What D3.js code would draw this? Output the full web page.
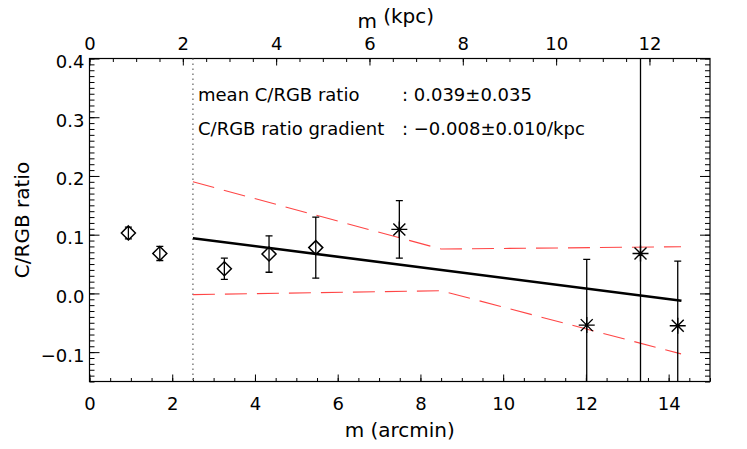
<!DOCTYPE html>
<html>
<head>
<meta charset="utf-8">
<script src="https://cdn.jsdelivr.net/npm/d3@7"></script>
<style>
  body { margin: 0; background: #fff; }
  text { font-family: "DejaVu Sans", sans-serif; fill: #000; }
</style>
</head>
<body>
<div id="plot"></div>
<script>
// inner points (diamonds)
var innerR = [0.94, 1.70, 3.26, 4.34, 5.47];
var innerVal = [0.103, 0.068, 0.042, 0.067, 0.078];
var innerErr = [0.010, 0.012, 0.018, 0.031, 0.052];

// outer points (asterisks)
var outerR = [7.49, 12.02, 13.32, 14.22];
var outerVal = [0.109, -0.054, 0.068, -0.055];
var outerErr = [0.049, 0.112, 0.60, 0.110];

// linear fit and its error envelope
var fitR = [2.5, 14.31];
var fitVal = [0.094, -0.0124];
var envR = [2.5, 8.5, 14.3];
var envUpper = [0.19, 0.0755, 0.0795];
var envLower = [-0.002, 0.0045, -0.103];

var innerLimit = 2.5;
var kpcPerArcmin = 0.8865;

var xTicks = [0, 2, 4, 6, 8, 10, 12, 14];
var kpcTicks = [0, 2, 4, 6, 8, 10, 12];
var yTicks = [-0.1, 0.0, 0.1, 0.2, 0.3, 0.4];

var textLines = [
  ["mean C/RGB ratio", ": 0.039\u00b10.035"],
  ["C/RGB ratio gradient", ": \u22120.008\u00b10.010/kpc"]
];

// set the dimensions and margins of the graph
var margin = {top: 58.5, right: 37, bottom: 67.5, left: 89.5},
    width = 747 - margin.left - margin.right,
    height = 449 - margin.top - margin.bottom;

var svg = d3.select("#plot")
  .append("svg")
    .attr("width", 747)
    .attr("height", 449)
  .append("g")
    .attr("transform", "translate(" + margin.left + "," + margin.top + ")");

var x = d3.scaleLinear().domain([0, 15]).range([0, width]);
var xk = d3.scaleLinear().domain([0, 15 * kpcPerArcmin]).range([0, width]);
var y = d3.scaleLinear().domain([-0.15, 0.4]).range([height, 0]);

svg.append("clipPath").attr("id", "clip")
  .append("rect").attr("width", width).attr("height", height);

function minorTicks(lo, hi, step) {
  var out = [];
  for (var i = 0; lo + i * step <= hi + 1e-9; i++) out.push(+(lo + i * step).toFixed(4));
  return out;
}

// bottom axis
svg.append("g")
  .attr("transform", "translate(0," + height + ")")
  .call(d3.axisBottom(x).tickValues(minorTicks(0, 15, 0.5)).tickSize(-3.5).tickFormat(""));
svg.append("g")
  .attr("transform", "translate(0," + height + ")")
  .call(d3.axisBottom(x).tickValues(xTicks).tickSize(-7).tickPadding(15.7).tickFormat(d3.format("d")));

// top axis (kpc)
svg.append("g")
  .call(d3.axisTop(xk).tickValues(minorTicks(0, 13.2, 0.5)).tickSize(-3.5).tickFormat(""));
svg.append("g")
  .call(d3.axisTop(xk).tickValues(kpcTicks).tickSize(-7).tickPadding(8.5).tickFormat(d3.format("d")));

// left axis
svg.append("g")
  .call(d3.axisLeft(y).tickValues(minorTicks(-0.15, 0.4, 0.01)).tickSize(-5).tickFormat(""));
var yAx = svg.append("g")
  .call(d3.axisLeft(y).tickValues(yTicks).tickSize(-10).tickPadding(5).tickFormat(d3.format(".1f")));
yAx.selectAll("text").attr("dy", "0.5em");

// right axis
svg.append("g")
  .attr("transform", "translate(" + width + ",0)")
  .call(d3.axisRight(y).tickValues(minorTicks(-0.15, 0.4, 0.01)).tickSize(-5).tickFormat(""));
svg.append("g")
  .attr("transform", "translate(" + width + ",0)")
  .call(d3.axisRight(y).tickValues(yTicks).tickSize(-10).tickFormat(""));

svg.selectAll(".domain").remove();
svg.selectAll(".tick line").attr("stroke", "#000").attr("stroke-width", 1);
svg.selectAll(".tick text").style("font-family", "DejaVu Sans").style("font-size", "18px");

// frame
svg.append("rect")
  .attr("width", width).attr("height", height)
  .attr("fill", "none").attr("stroke", "#000").attr("stroke-width", 1.2);

// axis titles
svg.append("text")
  .attr("x", width / 2).attr("y", 437 - margin.top)
  .attr("text-anchor", "middle").style("font-size", "20px")
  .text("m (arcmin)");

var topTitle = svg.append("text")
  .attr("x", width / 2 - 4).attr("y", 23 - margin.top)
  .attr("text-anchor", "middle").style("font-size", "20px");
topTitle.append("tspan").attr("dy", 5).text("m");
topTitle.append("tspan").attr("dy", -5).text(" (kpc)");

svg.append("text")
  .attr("transform", "translate(" + (29 - margin.left) + "," + (height / 2) + ") rotate(-90)")
  .attr("text-anchor", "middle").style("font-size", "20px")
  .text("C/RGB ratio");

var plot = svg.append("g").attr("clip-path", "url(#clip)");

// inner limit (dotted)
plot.append("line")
  .attr("x1", x(innerLimit)).attr("x2", x(innerLimit))
  .attr("y1", 0).attr("y2", height)
  .attr("stroke", "#888").attr("stroke-width", 1.6).attr("stroke-dasharray", "1.6,3.4");

// envelope
function envLine(vals) {
  return d3.line().x(function(d, i) { return x(envR[i]); }).y(function(d) { return y(d); })(vals);
}
[envUpper, envLower].forEach(function(v) {
  plot.append("path")
    .attr("d", envLine(v))
    .attr("fill", "none").attr("stroke", "#ff4646").attr("stroke-width", 1.1)
    .attr("stroke-dasharray", "22,10");
});

// fit line
plot.append("path")
  .attr("d", d3.line().x(function(d, i) { return x(fitR[i]); }).y(function(d) { return y(d); })(fitVal))
  .attr("fill", "none").attr("stroke", "#000").attr("stroke-width", 2.6);

// error bars
function errorBars(rs, vals, errs) {
  var g = plot.append("g").attr("stroke", "#000").attr("stroke-width", 1.3);
  rs.forEach(function(r, i) {
    var cx = x(r), top = y(vals[i] + errs[i]), bot = y(vals[i] - errs[i]);
    g.append("line").attr("x1", cx).attr("x2", cx).attr("y1", top).attr("y2", bot);
    g.append("line").attr("x1", cx - 3.5).attr("x2", cx + 3.5).attr("y1", top).attr("y2", top);
    g.append("line").attr("x1", cx - 3.5).attr("x2", cx + 3.5).attr("y1", bot).attr("y2", bot);
  });
}
errorBars(innerR, innerVal, innerErr);
errorBars(outerR, outerVal, outerErr);

// diamonds
plot.append("g").selectAll("path")
  .data(innerR)
  .enter()
  .append("path")
    .attr("d", function(d, i) {
      var cx = x(d), cy = y(innerVal[i]), s = 7;
      return "M" + cx + "," + (cy - s) + "L" + (cx + s) + "," + cy + "L" + cx + "," + (cy + s) + "L" + (cx - s) + "," + cy + "Z";
    })
    .attr("fill", "none").attr("stroke", "#000").attr("stroke-width", 1.5);

// asterisks
plot.append("g").selectAll("path")
  .data(outerR)
  .enter()
  .append("path")
    .attr("d", function(d, i) {
      var cx = x(d), cy = y(outerVal[i]), s = 8, t = 6;
      return "M" + (cx - s) + "," + cy + "L" + (cx + s) + "," + cy +
        "M" + cx + "," + (cy - s) + "L" + cx + "," + (cy + s) +
        "M" + (cx - t) + "," + (cy - t) + "L" + (cx + t) + "," + (cy + t) +
        "M" + (cx - t) + "," + (cy + t) + "L" + (cx + t) + "," + (cy - t);
    })
    .attr("fill", "none").attr("stroke", "#000").attr("stroke-width", 1.4);

// annotation text
textLines.forEach(function(t, i) {
  var yy = 101 + i * 34 - margin.top;
  svg.append("text").attr("x", 198 - margin.left).attr("y", yy).style("font-size", "18px").text(t[0]);
  svg.append("text").attr("x", 402 - margin.left).attr("y", yy).style("font-size", "18px").text(t[1]);
});
</script>
</body>
</html>
